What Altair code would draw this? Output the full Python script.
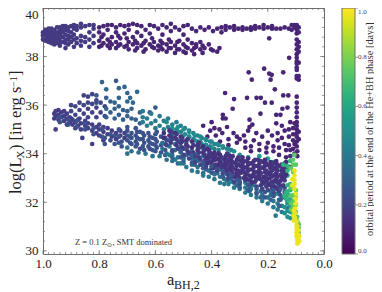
import altair as alt

# Each group: period value -> {a_BH,2: [log Lx, ...]}
band_top = {0.1: {
 0.80:[39.2,39.0,38.65,38.4],0.785:[39.25,38.9,38.55],0.77:[39.3,39.1,38.7,38.45],0.755:[39.3,38.8,38.5],0.74:[39.2,39.0,38.6,38.35],
 0.725:[39.3,38.75,38.5],0.71:[39.25,38.95,38.4],0.695:[39.3,39.1,38.6,38.3],0.68:[39.35,38.8,38.5],0.665:[39.3,39.0,38.55,38.35],
 0.65:[39.25,38.85,38.45],0.635:[39.1,38.65,38.3],0.62:[39.3,38.95,38.5],0.605:[39.25,38.6,38.35],0.59:[39.15,38.45,38.25],
 0.575:[39.3,38.9,38.55,38.3],0.56:[39.2,38.5,38.2],0.545:[39.35,39.05,38.6,38.35],0.53:[39.2,38.45,38.15],0.515:[39.1,38.65,38.3],
 0.50:[39.25,38.9,38.5,38.2],0.485:[39.3,38.7,38.35],0.47:[39.15,38.55,38.25],0.455:[39.05,38.4,38.5],0.44:[39.2,38.6,38.3],
 0.425:[39.1,38.35],0.41:[39.2,38.5],0.395:[39.05,38.25],0.38:[39.15,38.2],0.365:[39.2,39.0],0.35:[39.1,39.25],0.335:[39.2],
 0.32:[39.25,39.1],0.305:[39.15],0.29:[39.2,39.1],0.275:[39.15],0.26:[39.2,39.1],0.245:[39.15,39.25],0.23:[39.2],0.215:[39.3,39.15],
 0.20:[39.2],0.185:[39.15,39.25],0.17:[39.15],0.155:[39.15],0.14:[39.2],0.125:[39.15],0.115:[39.3,39.1],0.105:[39.2,39.3],
 0.097:[39.3,39.1,38.95,38.7,38.5,38.3,38.1,37.95,37.8,37.7,37.55,37.45,37.2,37.1,36.35,36.1,35.9,35.7,35.5,35.3,35.15,35.0,34.85,34.7,34.5,34.3],
 0.09:[39.2,39.0,38.6,38.4,38.2,37.75,37.2,37.05,34.9,34.6],
 0.792:[38.8,38.45],0.762:[38.6,38.35],0.732:[38.85,38.45],0.702:[38.75,38.45],0.672:[38.65,38.25],0.642:[38.55,38.2],0.612:[38.75,38.4],
 0.582:[38.65,38.4],0.552:[38.35,38.7],0.522:[38.6,38.3],0.492:[38.4,38.15],0.462:[38.35,38.1],0.432:[38.45,38.15],0.402:[38.3],0.372:[38.35],
}}
band_blob = {0.17: {
 1.0:[38.7,38.85,39.0,38.9],0.99:[38.65,38.8,38.95,39.1],0.98:[38.6,38.75,38.9,39.05,39.15],0.97:[38.55,38.7,38.85,39.0,39.15],
 0.96:[38.5,38.65,38.8,38.95,39.1],0.95:[38.55,38.7,38.85,39.0,39.2],0.94:[38.45,38.6,38.75,38.9,39.05,39.2],0.93:[38.6,38.8,39.0,39.15,39.25],
 0.92:[38.35,38.55,38.7,38.9,39.1,39.25],0.91:[38.5,38.7,38.85,39.05,39.2],0.90:[38.6,38.8,39.0,39.25],0.89:[38.4,38.7,38.9,39.15,39.3],
 0.88:[38.55,38.75,39.1,39.25],0.865:[38.45,38.65,38.85,39.2,39.35],0.85:[38.6,38.8,39.25],0.835:[38.4,38.7,39.0,39.3],0.82:[38.55,38.85,39.3,39.15],
}}
sparse_dark = {0.1: {
 0.36:[35.6,35.45],0.35:[35.45],0.325:[35.85],0.37:[35.65],0.352:[36.5],0.32:[36.25],0.274:[36.3],0.24:[36.3],0.225:[36.3],
 0.195:[38.75,37.3],0.124:[37.95],0.213:[37.5],0.268:[37.35],0.257:[37.05],0.186:[37.25,36.1],0.145:[37.35,36.4],0.19:[37.05],0.18:[37.05,36.75],
 0.175:[36.65],0.127:[36.4],0.21:[36.1],0.13:[35.9],0.148:[35.85],0.205:[35.6],0.226:[35.65],0.17:[35.6,35.25],0.155:[35.6],
 0.265:[35.4,35.1],0.255:[35.2],0.23:[35.3],0.40:[35.3],0.43:[35.15],0.39:[35.05],0.372:[35.0],0.345:[35.1],0.322:[34.85],0.385:[34.75],
 0.362:[34.85],0.30:[34.6],0.285:[34.75],0.27:[34.95],0.25:[34.55],0.241:[34.85],0.22:[34.7],0.20:[34.95,34.45],0.185:[34.75],0.165:[34.85,34.55],
 0.15:[35.15,34.65],0.14:[34.95,34.4],0.125:[35.0,34.7,34.35],0.11:[35.05,34.8,34.55,34.2],0.105:[35.25,34.4,34.0],0.12:[35.3,34.15],
 0.135:[34.15,33.85],0.16:[34.25,33.95],0.18:[34.3,34.1],0.205:[34.25,34.05],0.23:[34.4,34.15],0.26:[34.3,34.1],0.28:[34.5,34.25],0.31:[34.45,34.7],
 0.34:[34.6,34.35],0.37:[34.5],0.405:[34.95],0.415:[34.7],0.095:[34.1,33.9],
}}
top_scatter = {0.33: {0.79:[36.95],0.775:[36.65],0.71:[36.75],0.73:[36.7,36.3],0.745:[36.1],0.70:[36.5,36.15],0.665:[36.55],0.68:[36.1],0.69:[36.3]},
 0.28: {0.74:[37.0],0.81:[36.4,36.1],0.60:[35.9],0.62:[35.7]}}
upper_blue = {0.2: {
 0.90:[36.0,35.75,35.45],0.885:[35.95,35.6,35.3],0.87:[36.1,35.8,35.45],0.855:[36.4,36.0,35.65],0.84:[36.35,36.1,35.85,35.5],0.825:[36.45,36.05,35.7],
 0.81:[36.2,35.9,35.5],0.795:[36.1,35.7],0.78:[35.95,35.55],
 }, 0.3: {
 0.775:[36.3,35.85,35.5],0.76:[36.15,35.7],0.745:[35.85,35.45],0.73:[35.95,35.6],0.715:[35.8,35.4],0.70:[35.75,35.55],
 0.685:[35.85,35.45],0.67:[35.4],0.655:[35.7,35.25],
 }, 0.42: {
 0.645:[35.75,35.5,35.3],0.63:[35.45,35.15],0.615:[35.65,35.25],0.60:[35.35,35.05],0.585:[35.55,35.15],
 0.57:[35.35,35.0],0.555:[35.45,35.1],0.54:[35.2,34.9],0.525:[35.3,35.0],0.51:[34.9,35.15],0.495:[35.05,34.8],0.48:[34.95,34.7],
 0.465:[34.85,34.6],0.45:[34.75,34.5],0.435:[34.65,34.4],0.42:[34.6,34.35],0.405:[34.5,34.3],0.39:[34.4,34.2],0.375:[34.35,34.15],
 0.36:[34.25],0.345:[34.2],0.33:[34.15],
}}
lower_strand = {0.18: {
 0.96:[35.45,35.65],0.955:[35.55,35.75,35.0],0.945:[35.4,35.6,35.8],0.935:[35.5,35.7],0.925:[35.35,35.55,35.75],0.915:[35.45,35.65,35.2],0.905:[35.3,35.5],
 0.895:[35.2,35.4],0.885:[35.05,35.3],0.875:[35.15,35.4],0.865:[35.0,35.25],0.85:[35.15,35.35],0.84:[35.05,35.25],0.825:[34.95,35.2,34.4],0.81:[34.85,35.1],
 0.80:[34.75,35.0,35.2],0.785:[34.55,34.9,35.1],0.77:[34.8,35.05],0.755:[34.7,34.95],0.74:[34.6,34.85],0.725:[34.75,34.95],0.71:[34.65,34.85],
 0.86:[34.65],
 }, 0.25: {
 0.78:[34.65,34.4],0.745:[34.4,34.75],0.72:[34.5,34.3],0.70:[34.75,34.55,34.95,35.1],0.685:[34.65,34.4,34.85],0.67:[34.75,34.5,34.3,35.05],0.655:[34.6,34.9,34.2],
 0.64:[34.75,34.45,34.15],0.625:[34.55,34.85,34.3],0.61:[34.65,34.4,34.15],0.595:[34.9,34.5,34.25],0.58:[34.7,34.35,34.05],
 0.69:[34.45,34.7],0.665:[34.4,34.65,34.9],0.645:[34.3,34.6,34.85],0.62:[34.2,34.45,34.7],0.60:[34.1,34.35,34.6,34.8],0.565:[33.95,34.15,34.4,34.65],
 0.76:[34.55,34.8],0.73:[34.45,34.7,35.0],0.79:[34.7,35.0],0.82:[34.8,35.05],0.85:[35.0,35.25],0.88:[35.1,35.35],0.91:[35.2,35.4],0.94:[35.3,35.5],
 }, 0.37: {
 0.70:[34.25,34.0],0.685:[34.1],0.66:[34.05],0.635:[34.0],0.61:[33.9],0.585:[33.9],0.56:[34.0,33.75],0.54:[33.95,33.7],0.52:[33.85,33.6],0.50:[33.6,33.8],
 0.575:[34.2,34.45],0.55:[34.3,34.55],0.53:[34.15,34.4],0.51:[34.05,34.3,34.55],0.49:[34.2,33.95,34.45],0.47:[33.8,34.1,33.55],0.45:[33.7,34.0,33.45,34.3],
 0.43:[33.55,33.9,33.2,34.2],0.41:[33.3,33.7,34.0],0.39:[33.15,33.5,33.85],0.37:[33.05,33.35,33.7],
}}
dense_mid = {0.13: {
 0.57:[34.85,34.65],0.55:[34.75,34.95],0.53:[34.65,34.85],0.51:[34.7,34.45],0.49:[34.55,34.35],0.47:[34.5,34.25],0.45:[34.35,34.15],
 0.43:[34.3,34.05],0.41:[34.15,33.9],0.39:[34.05,33.8],0.37:[33.95,33.65],0.35:[33.9,33.65,33.4],0.33:[33.8,33.55,33.3],0.31:[33.75,33.5,33.2],
 0.29:[33.85,33.6,33.35],0.27:[33.8,33.55,33.3],0.25:[33.7,33.45,33.2],0.23:[33.6,33.35,33.1],0.21:[33.75,33.5,33.25,33.0],0.19:[33.65,33.4,33.15],
 0.17:[33.7,33.45,33.2,32.95],0.15:[33.55,33.3,33.05],0.135:[33.65,33.4,33.15],0.12:[33.45,33.9],
 }, 0.2: {
 0.56:[34.55,34.35],0.54:[34.1,34.6],0.52:[34.2,34.5],0.50:[33.95,34.2],0.48:[34.0,33.8],0.46:[33.9,33.65],0.44:[33.75,33.55],0.42:[33.8,33.45],
 0.40:[33.6,33.4],0.38:[33.5,33.3],0.36:[33.4,33.2],0.34:[33.15,33.0],0.32:[33.05,32.85],0.30:[33.0,32.8],0.28:[33.1,32.9],0.26:[33.0,32.75],
 0.24:[32.95,32.65],0.22:[32.85,32.55],0.20:[32.8,32.5],0.18:[32.7,32.4],0.16:[32.75,32.45],0.14:[32.9,32.6],
 }, 0.16: {
 0.545:[34.45,34.7,34.9],0.525:[34.35,34.6,34.8],0.505:[34.25,34.5,34.65],0.485:[34.1,34.3,34.6],0.465:[34.05,34.35,33.95],0.445:[33.85,34.05,34.25,34.45],
 0.425:[33.7,33.95,34.15],0.405:[33.65,33.85,34.05],0.385:[33.55,33.75,33.95],0.365:[33.45,33.6,33.85],0.345:[33.3,33.55,33.75,34.0],
 0.325:[33.2,33.45,33.65,33.9],0.305:[33.1,33.3,33.55,33.85],0.285:[33.0,33.25,33.45,33.7],0.265:[32.9,33.1,33.35,33.6],0.245:[32.85,33.05,33.25,33.5,33.75],
 0.225:[32.7,32.95,33.2,33.4,33.7],0.205:[32.65,32.9,33.1,33.3,33.6],0.185:[32.6,32.85,33.05,33.3,33.5],0.165:[32.55,32.8,33.05,33.3,33.55],0.145:[32.7,32.95,33.2,33.4],
 }, 0.14: {
 0.415:[33.6,33.82,34.2],0.395:[33.72,33.95,33.4],0.375:[33.55,33.8,34.02],0.355:[33.52,33.75,33.3],0.335:[33.42,33.68,33.9],0.315:[33.35,33.62,33.05],
 0.295:[33.22,33.48,33.72],0.275:[33.15,33.42,33.68,32.95],0.255:[33.08,33.35,33.6,32.82],0.235:[33.0,33.22,33.48,33.75],0.215:[32.8,33.05,33.42,33.65],
 0.195:[32.72,32.98,33.22,33.5],0.175:[32.62,32.88,33.12,33.38,33.62],0.155:[32.65,32.88,33.12,33.48],0.14:[33.05,33.3,33.6],
 }, 0.27: {
 0.51:[33.85,34.12],0.47:[33.62,33.95],0.43:[33.4,33.62],0.40:[33.22,33.48],0.36:[33.05,33.28],0.33:[32.98,33.12],0.30:[32.85,32.62],0.27:[32.72,32.5],
 0.24:[32.55,32.35],0.21:[32.42,32.2],0.18:[32.25,32.5],0.155:[32.1,32.3,32.55],0.14:[32.2,32.42],
}}
lower_edge = {0.4: {
 0.55:[33.95],0.53:[33.75],0.51:[33.6],0.49:[33.45],0.47:[33.3],0.45:[33.25],0.43:[33.1],0.41:[33.05],0.39:[32.95,33.2],0.37:[32.8],0.355:[32.95,32.75],
 0.34:[32.75,32.95],0.32:[32.6,32.8],0.30:[32.55,32.75],0.28:[32.4,32.6],0.26:[32.3,32.55],0.24:[32.2,32.4],0.22:[32.05,32.3],0.20:[31.95,32.2],
 0.18:[31.8,32.05],0.165:[31.7,31.95],0.15:[31.6,31.85,32.2],0.172:[31.45],
 }, 0.33: {
 0.54:[33.85,34.15],0.50:[33.7,33.9],0.46:[33.55,33.8],0.42:[33.35,33.6],0.38:[33.2,33.4],0.345:[32.9,33.15],0.31:[32.7,32.9],0.265:[32.45,32.65],
 0.225:[32.2,32.45],0.19:[32.1,32.3],0.16:[31.85,32.1,32.35],0.13:[31.75,32.05,32.3],
 }, 0.45: {0.33:[32.85],0.28:[32.8],0.25:[32.7],0.22:[32.55],0.19:[32.45],0.24:[33.05],0.17:[32.35,32.6]},
 0.5: {0.14:[31.55,31.8],0.13:[31.4,31.65,31.95],0.12:[31.35,31.6,31.85,32.15],0.17:[32.85],0.2:[33.2],0.29:[33.3],0.225:[33.45]},
}
teal_top = {0.48: {
 0.56:[35.3],0.54:[35.05,34.8],0.52:[35.1,34.9],0.50:[35.0,34.75],0.48:[34.9,34.7],0.46:[34.75,34.55],0.44:[34.7,34.5],0.42:[34.55,34.35],0.40:[34.5,34.25],
 0.38:[34.4],0.36:[34.3],0.34:[34.2,34.0],0.32:[34.1],0.30:[33.95],0.27:[33.85],
 }, 0.55: {0.34:[33.95],0.3:[33.7],0.26:[33.6],0.23:[33.9],0.2:[33.8],0.18:[33.65],0.165:[33.45],0.15:[33.3,33.0],
 0.21:[32.75],0.24:[32.95],0.19:[33.1],0.185:[32.75],0.13:[33.1]},
}
green = {0.65: {0.13:[33.5,33.3,32.7,32.45],0.12:[33.7,32.5,32.75],0.145:[33.55],0.125:[32.3,32.05],0.135:[32.15,32.4],0.14:[32.25]},
 0.75: {0.11:[33.75,33.55,33.25,32.6,32.3,32.05,31.8,31.5],0.10:[33.55,32.5,32.2,31.9,31.6,31.3],0.118:[33.4,31.95,31.7,32.25,32.6],0.105:[33.95],
        0.09:[31.1,30.95,30.75],0.095:[31.4,31.2]}}
yellow = {0.97: {0.105:[33.3,33.1,32.9,32.75,32.55],0.113:[32.7,32.95],0.10:[32.35,32.15,31.95],0.108:[31.65,31.45,31.25],0.103:[31.75,31.55,31.35],
 0.098:[31.2,31.05,30.9,30.75,30.6],0.092:[30.85,30.65,30.5,30.35],0.095:[31.0,30.7,30.45,30.3],0.088:[30.6,30.4]}}

draw_order = [band_blob, band_top, top_scatter, sparse_dark, upper_blue, teal_top, lower_strand, lower_edge, dense_mid, green, yellow]
rows = [{"a": a, "L": L, "p": p}
        for group in draw_order for p, cols in group.items() for a, Ls in cols.items() for L in Ls]

x_major = [1.0, 0.8, 0.6, 0.4, 0.2, 0.0]
x_minor = [round(i * 0.02, 2) for i in range(51)]
y_major = [30, 32, 34, 36, 38, 40]
y_minor = [round(30 + i * 0.4, 1) for i in range(26)]
cbar_ticks = [0.0, 0.2, 0.4, 0.6, 0.8, 1.0]

W, H = 281, 246
XD, YD = [1.0, 0.0], [29.87, 40.0]
SERIF = "Liberation Serif"
FRAME = "#6e6e6e"
xs = alt.Scale(domain=XD)
ys = alt.Scale(domain=YD)
xax = alt.Axis(values=x_major, format=".1f", title=None, grid=False, ticks=False, domain=False, labelFlush=False,
               labelFont=SERIF, labelFontSize=13, labelColor="#222", labelPadding=3)
yax = alt.Axis(values=y_major, format="d", title=None, grid=False, ticks=False, domain=False,
               labelFont=SERIF, labelFontSize=13, labelColor="#222", labelPadding=5, labelFlush=True)

pts = alt.Chart(alt.Data(values=rows)).mark_circle(size=22, opacity=1).encode(
    x=alt.X("a:Q", scale=xs, axis=xax),
    y=alt.Y("L:Q", scale=ys, axis=yax),
    color=alt.Color("p:Q", scale=alt.Scale(scheme="viridis", domain=[0, 1]),
                    legend=alt.Legend(orient="none", legendX=299, legendY=0, title=None, gradientLength=H, gradientThickness=13,
                                      values=cbar_ticks, format=".1f", labelFont=SERIF, labelFontSize=7, labelColor="#444",
                                      labelOffset=3, gradientStrokeColor=FRAME, gradientStrokeWidth=1)),
)

def xticks(vals, ln):
    d = alt.Data(values=[{"v": v} for v in vals])
    return [alt.Chart(d).mark_rule(color=FRAME, strokeWidth=0.7).encode(
        x=alt.X("v:Q", scale=xs, axis=xax), y=alt.value(y0), y2=alt.value(y1))
        for y0, y1 in ((H, H - ln), (0, ln))]

def yticks(vals, ln):
    d = alt.Data(values=[{"v": v} for v in vals])
    return [alt.Chart(d).mark_rule(color=FRAME, strokeWidth=0.7).encode(
        y=alt.Y("v:Q", scale=ys, axis=yax), x=alt.value(x0), x2=alt.value(x1))
        for x0, x1 in ((0, ln), (W, W - ln))]

def label(text, x, y, size, angle=0, color="#222"):
    return alt.Chart(alt.Data(values=[{"t": text}])).mark_text(
        font=SERIF, fontSize=size, align="left", baseline="alphabetic", angle=angle, color=color
    ).encode(x=alt.value(x), y=alt.value(y), text="t:N")

cbar_tick = alt.Chart(alt.Data(values=[{"v": v} for v in cbar_ticks])).transform_calculate(
    L2=f"{YD[0]} + datum.v * {YD[1] - YD[0]}"
).mark_rule(color=FRAME, strokeWidth=0.7).encode(
    y=alt.Y("L2:Q", scale=ys, axis=yax), x=alt.value(312), x2=alt.value(315))

texts = [
    label("log(L", -22, 186, 16.5, 270), label("X", -19, 150.5, 11, 270), label(") [in erg s", -22, 142, 16.5, 270),
    label("\u22121", -26.5, 79, 10, 270), label("]", -22, 68, 16.5, 270),
    label("a", 124, 277, 16.5), label("BH,2", 131, 281, 12),
    label("Z = 0.1 Z", 32, 237, 8.5, color="#333"), label("\u2299", 64, 239, 6, color="#333"),
    label(", SMT dominated", 69.5, 237, 8.5, color="#333"),
    label("orbital period at the end of the He+BH phase [days]", 330, 228, 10.3, 270, color="#333"),
]

chart = alt.layer(pts, *xticks(x_minor, 2), *xticks(x_major, 4), *yticks(y_minor, 2), *yticks(y_major, 4),
                  cbar_tick, *texts).properties(
    width=W, height=H, padding={"left": 35, "top": 0, "right": 50, "bottom": 38},
    autosize=alt.AutoSizeParams(type="none"),
).configure_view(stroke=FRAME, strokeWidth=1)

chart.save("out.html", embed_options={"renderer": "svg", "actions": False})
